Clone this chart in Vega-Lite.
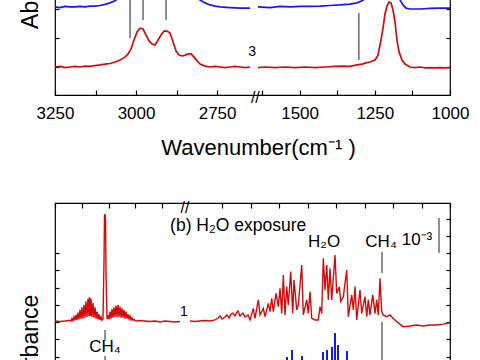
{
  "$schema": "https://vega.github.io/schema/vega-lite/v6.json",
  "autosize": {"type": "none"},
  "padding": {"left": 55, "top": -151, "right": 425, "bottom": 511},
  "config": {
    "font": "Liberation Sans",
    "view": {"stroke": "black", "strokeWidth": 1.2},
    "axis": {"grid": false, "domain": false, "tickColor": "black", "tickWidth": 1.2, "labelColor": "black", "titleColor": "black", "labelFont": "Liberation Sans", "titleFont": "Liberation Sans", "titleFontWeight": "normal", "labelFontSize": 17, "titleFontSize": 22},
    "text": {"font": "Liberation Sans", "color": "black"}
  },
  "datasets": {
    "top": [
      {"w":3250,"a":0,"s":"red","seg":"L"},{"w":3234.6,"a":0.02,"s":"red","seg":"L"},{"w":3219.1,"a":-0.02,"s":"red","seg":"L"},{"w":3203.7,"a":0,"s":"red","seg":"L"},{"w":3188.3,"a":0.02,"s":"red","seg":"L"},{"w":3172.8,"a":0,"s":"red","seg":"L"},{"w":3157.4,"a":0.03,"s":"red","seg":"L"},{"w":3142,"a":0.02,"s":"red","seg":"L"},{"w":3126.5,"a":0.05,"s":"red","seg":"L"},{"w":3111.1,"a":0.07,"s":"red","seg":"L"},{"w":3095.7,"a":0.1,"s":"red","seg":"L"},{"w":3080.2,"a":0.12,"s":"red","seg":"L"},{"w":3064.8,"a":0.17,"s":"red","seg":"L"},{"w":3049.4,"a":0.24,"s":"red","seg":"L"},{"w":3034,"a":0.34,"s":"red","seg":"L"},{"w":3024.7,"a":0.45,"s":"red","seg":"L"},{"w":3015.4,"a":0.62,"s":"red","seg":"L"},{"w":3006.2,"a":0.93,"s":"red","seg":"L"},{"w":2996.9,"a":1.21,"s":"red","seg":"L"},{"w":2987.7,"a":1.34,"s":"red","seg":"L"},{"w":2978.4,"a":1.31,"s":"red","seg":"L"},{"w":2969.1,"a":1.1,"s":"red","seg":"L"},{"w":2959.9,"a":0.9,"s":"red","seg":"L"},{"w":2950.6,"a":0.79,"s":"red","seg":"L"},{"w":2941.4,"a":0.76,"s":"red","seg":"L"},{"w":2932.1,"a":0.93,"s":"red","seg":"L"},{"w":2922.8,"a":1.1,"s":"red","seg":"L"},{"w":2913.6,"a":1.24,"s":"red","seg":"L"},{"w":2904.3,"a":1.24,"s":"red","seg":"L"},{"w":2895.1,"a":1.17,"s":"red","seg":"L"},{"w":2885.8,"a":0.86,"s":"red","seg":"L"},{"w":2876.5,"a":0.55,"s":"red","seg":"L"},{"w":2867.3,"a":0.41,"s":"red","seg":"L"},{"w":2858,"a":0.38,"s":"red","seg":"L"},{"w":2848.8,"a":0.41,"s":"red","seg":"L"},{"w":2839.5,"a":0.45,"s":"red","seg":"L"},{"w":2830.2,"a":0.45,"s":"red","seg":"L"},{"w":2821,"a":0.34,"s":"red","seg":"L"},{"w":2811.7,"a":0.21,"s":"red","seg":"L"},{"w":2802.5,"a":0.1,"s":"red","seg":"L"},{"w":2787,"a":0.03,"s":"red","seg":"L"},{"w":2771.6,"a":0,"s":"red","seg":"L"},{"w":2756.2,"a":0.02,"s":"red","seg":"L"},{"w":2740.7,"a":0,"s":"red","seg":"L"},{"w":2725.3,"a":-0.02,"s":"red","seg":"L"},{"w":2709.9,"a":0,"s":"red","seg":"L"},{"w":2694.4,"a":0.02,"s":"red","seg":"L"},{"w":2679,"a":0,"s":"red","seg":"L"},{"w":2663.6,"a":-0.02,"s":"red","seg":"L"},{"w":2648.1,"a":0,"s":"red","seg":"L"},
      {"w":3250,"a":2.07,"s":"blue","seg":"L"},{"w":3234.6,"a":2.05,"s":"blue","seg":"L"},{"w":3219.1,"a":2.09,"s":"blue","seg":"L"},{"w":3203.7,"a":2.07,"s":"blue","seg":"L"},{"w":3188.3,"a":2.07,"s":"blue","seg":"L"},{"w":3172.8,"a":2.09,"s":"blue","seg":"L"},{"w":3157.4,"a":2.07,"s":"blue","seg":"L"},{"w":3142,"a":2.1,"s":"blue","seg":"L"},{"w":3126.5,"a":2.1,"s":"blue","seg":"L"},{"w":3111.1,"a":2.12,"s":"blue","seg":"L"},{"w":3095.7,"a":2.16,"s":"blue","seg":"L"},{"w":3080.2,"a":2.21,"s":"blue","seg":"L"},{"w":3064.8,"a":2.28,"s":"blue","seg":"L"},{"w":3049.4,"a":2.41,"s":"blue","seg":"L"},{"w":3034,"a":2.66,"s":"blue","seg":"L"},{"w":3018.5,"a":3.17,"s":"blue","seg":"L"},{"w":2987.7,"a":4.38,"s":"blue","seg":"L"},{"w":2956.8,"a":4.72,"s":"blue","seg":"L"},{"w":2910.5,"a":4.55,"s":"blue","seg":"L"},{"w":2864.2,"a":3.69,"s":"blue","seg":"L"},{"w":2833.3,"a":2.83,"s":"blue","seg":"L"},{"w":2817.9,"a":2.48,"s":"blue","seg":"L"},{"w":2802.5,"a":2.31,"s":"blue","seg":"L"},{"w":2787,"a":2.21,"s":"blue","seg":"L"},{"w":2771.6,"a":2.14,"s":"blue","seg":"L"},{"w":2756.2,"a":2.1,"s":"blue","seg":"L"},{"w":2740.7,"a":2.07,"s":"blue","seg":"L"},{"w":2709.9,"a":2.05,"s":"blue","seg":"L"},{"w":2679,"a":2.03,"s":"blue","seg":"L"},{"w":2648.1,"a":2.03,"s":"blue","seg":"L"},
      {"w":1638.3,"a":-0.02,"s":"red","seg":"R"},{"w":1615,"a":0,"s":"red","seg":"R"},{"w":1581.8,"a":-0.02,"s":"red","seg":"R"},{"w":1548.5,"a":0,"s":"red","seg":"R"},{"w":1515.3,"a":-0.02,"s":"red","seg":"R"},{"w":1482,"a":0,"s":"red","seg":"R"},{"w":1448.8,"a":-0.02,"s":"red","seg":"R"},{"w":1415.6,"a":0,"s":"red","seg":"R"},{"w":1382.3,"a":0.02,"s":"red","seg":"R"},{"w":1355.7,"a":0.03,"s":"red","seg":"R"},{"w":1332.5,"a":0.02,"s":"red","seg":"R"},{"w":1309.2,"a":0.07,"s":"red","seg":"R"},{"w":1292.6,"a":0.1,"s":"red","seg":"R"},{"w":1279.3,"a":0.14,"s":"red","seg":"R"},{"w":1266,"a":0.17,"s":"red","seg":"R"},{"w":1249.3,"a":0.24,"s":"red","seg":"R"},{"w":1239.4,"a":0.41,"s":"red","seg":"R"},{"w":1229.4,"a":0.93,"s":"red","seg":"R"},{"w":1222.7,"a":1.34,"s":"red","seg":"R"},{"w":1216.1,"a":1.83,"s":"red","seg":"R"},{"w":1209.4,"a":2.1,"s":"red","seg":"R"},{"w":1202.8,"a":2.24,"s":"red","seg":"R"},{"w":1196.1,"a":2.21,"s":"red","seg":"R"},{"w":1189.5,"a":1.97,"s":"red","seg":"R"},{"w":1182.8,"a":1.55,"s":"red","seg":"R"},{"w":1176.2,"a":0.93,"s":"red","seg":"R"},{"w":1169.5,"a":0.52,"s":"red","seg":"R"},{"w":1159.6,"a":0.24,"s":"red","seg":"R"},{"w":1149.6,"a":0.1,"s":"red","seg":"R"},{"w":1133,"a":0,"s":"red","seg":"R"},{"w":1116.4,"a":-0.02,"s":"red","seg":"R"},{"w":1099.7,"a":0,"s":"red","seg":"R"},{"w":1083.1,"a":-0.03,"s":"red","seg":"R"},{"w":1066.5,"a":-0.02,"s":"red","seg":"R"},{"w":1049.9,"a":-0.03,"s":"red","seg":"R"},{"w":1033.2,"a":-0.02,"s":"red","seg":"R"},{"w":1016.6,"a":-0.03,"s":"red","seg":"R"},{"w":1000,"a":-0.02,"s":"red","seg":"R"},
      {"w":1638.3,"a":2.07,"s":"blue","seg":"R"},{"w":1598.4,"a":2.05,"s":"blue","seg":"R"},{"w":1565.2,"a":2.09,"s":"blue","seg":"R"},{"w":1531.9,"a":2.07,"s":"blue","seg":"R"},{"w":1498.7,"a":2.09,"s":"blue","seg":"R"},{"w":1465.4,"a":2.09,"s":"blue","seg":"R"},{"w":1432.2,"a":2.1,"s":"blue","seg":"R"},{"w":1398.9,"a":2.12,"s":"blue","seg":"R"},{"w":1365.7,"a":2.14,"s":"blue","seg":"R"},{"w":1332.5,"a":2.17,"s":"blue","seg":"R"},{"w":1309.2,"a":2.21,"s":"blue","seg":"R"},{"w":1292.6,"a":2.28,"s":"blue","seg":"R"},{"w":1279.3,"a":2.38,"s":"blue","seg":"R"},{"w":1266,"a":2.59,"s":"blue","seg":"R"},{"w":1249.3,"a":3.34,"s":"blue","seg":"R"},{"w":1216.1,"a":4.38,"s":"blue","seg":"R"},{"w":1192.8,"a":3.69,"s":"blue","seg":"R"},{"w":1176.2,"a":2.66,"s":"blue","seg":"R"},{"w":1166.2,"a":2.31,"s":"blue","seg":"R"},{"w":1156.3,"a":2.14,"s":"blue","seg":"R"},{"w":1146.3,"a":2.03,"s":"blue","seg":"R"},{"w":1133,"a":2.0,"s":"blue","seg":"R"},{"w":1099.7,"a":2.0,"s":"blue","seg":"R"},{"w":1066.5,"a":2.02,"s":"blue","seg":"R"},{"w":1033.2,"a":2.03,"s":"blue","seg":"R"},{"w":1000,"a":2.03,"s":"blue","seg":"R"}
    ],
    "topRules": [
      {"w":3018.5,"a1":1.0,"a2":3.2},{"w":2978.4,"a1":1.62,"a2":3.2},{"w":2907.4,"a1":1.62,"a2":3.2},{"w":1303,"a1":0.24,"a2":1.86}
    ],
    "topSmall": [{"w":2642,"a":0.52,"t":"3"}],
    "topBreak": [{"w":2632,"a":-1.08,"t":"//"}],
    "bot": [
      {"w":3200,"b":0.06,"seg":"L"},{"w":3181.3,"b":0.03,"seg":"L"},{"w":3162.6,"b":0.06,"seg":"L"},
      {"w":3143.9,"b":0.1,"seg":"L"},{"w":3140.2,"b":0.05,"seg":"L"},{"w":3136.5,"b":0.2,"seg":"L"},{"w":3132.7,"b":0.08,"seg":"L"},{"w":3129,"b":0.3,"seg":"L"},{"w":3125.2,"b":0.1,"seg":"L"},{"w":3121.5,"b":0.42,"seg":"L"},{"w":3117.8,"b":0.12,"seg":"L"},{"w":3114,"b":0.55,"seg":"L"},{"w":3110.3,"b":0.15,"seg":"L"},{"w":3106.6,"b":0.7,"seg":"L"},{"w":3102.8,"b":0.18,"seg":"L"},{"w":3099.1,"b":0.85,"seg":"L"},{"w":3095.3,"b":0.2,"seg":"L"},{"w":3091.6,"b":1.0,"seg":"L"},{"w":3087.9,"b":0.25,"seg":"L"},{"w":3084.1,"b":1.2,"seg":"L"},{"w":3080.4,"b":0.3,"seg":"L"},{"w":3076.6,"b":1.35,"seg":"L"},{"w":3072.9,"b":0.35,"seg":"L"},{"w":3071,"b":1.45,"seg":"L"},{"w":3067.3,"b":0.35,"seg":"L"},{"w":3065.4,"b":1.35,"seg":"L"},{"w":3061.7,"b":0.3,"seg":"L"},{"w":3057.9,"b":1.1,"seg":"L"},{"w":3054.2,"b":0.25,"seg":"L"},{"w":3050.5,"b":0.85,"seg":"L"},{"w":3046.7,"b":0.2,"seg":"L"},{"w":3043,"b":0.6,"seg":"L"},{"w":3039.3,"b":0.15,"seg":"L"},{"w":3035.5,"b":0.45,"seg":"L"},{"w":3031.8,"b":0.12,"seg":"L"},{"w":3028,"b":0.3,"seg":"L"},{"w":3024.3,"b":0.1,"seg":"L"},{"w":3020.6,"b":0.17,"seg":"L"},
      {"w":3016.8,"b":3.59,"seg":"L"},{"w":3015,"b":6.15,"seg":"L"},{"w":3013.1,"b":6.26,"seg":"L"},{"w":3011.2,"b":6.03,"seg":"L"},{"w":3009.4,"b":3.01,"seg":"L"},
      {"w":3005.6,"b":0.17,"seg":"L"},{"w":3001.9,"b":0.4,"seg":"L"},{"w":2998.1,"b":0.15,"seg":"L"},{"w":2994.4,"b":0.6,"seg":"L"},{"w":2990.7,"b":0.2,"seg":"L"},{"w":2986.9,"b":0.75,"seg":"L"},{"w":2983.2,"b":0.25,"seg":"L"},{"w":2979.5,"b":0.85,"seg":"L"},{"w":2975.7,"b":0.3,"seg":"L"},{"w":2972,"b":0.95,"seg":"L"},{"w":2968.2,"b":0.3,"seg":"L"},{"w":2964.5,"b":1.0,"seg":"L"},{"w":2960.8,"b":0.3,"seg":"L"},{"w":2957,"b":0.9,"seg":"L"},{"w":2953.3,"b":0.25,"seg":"L"},{"w":2949.6,"b":0.8,"seg":"L"},{"w":2945.8,"b":0.25,"seg":"L"},{"w":2942.1,"b":0.7,"seg":"L"},{"w":2938.3,"b":0.2,"seg":"L"},{"w":2934.6,"b":0.6,"seg":"L"},{"w":2930.9,"b":0.2,"seg":"L"},{"w":2927.1,"b":0.45,"seg":"L"},{"w":2923.4,"b":0.15,"seg":"L"},{"w":2919.7,"b":0.35,"seg":"L"},{"w":2915.9,"b":0.12,"seg":"L"},{"w":2912.2,"b":0.25,"seg":"L"},{"w":2908.4,"b":0.1,"seg":"L"},{"w":2904.7,"b":0.15,"seg":"L"},{"w":2897.2,"b":0.06,"seg":"L"},
      {"w":2882.3,"b":0.09,"seg":"L"},{"w":2863.6,"b":0.06,"seg":"L"},{"w":2844.9,"b":0.03,"seg":"L"},{"w":2826.2,"b":0.06,"seg":"L"},{"w":2807.5,"b":0,"seg":"L"},{"w":2788.8,"b":0.06,"seg":"L"},{"w":2770.1,"b":0.03,"seg":"L"},{"w":2751.4,"b":0,"seg":"L"},{"w":2732.7,"b":0.03,"seg":"L"},
      {"w":2012.9,"b":0.06,"seg":"R"},{"w":1995.3,"b":0.03,"seg":"R"},{"w":1977.8,"b":0.06,"seg":"R"},{"w":1960.2,"b":0.09,"seg":"R"},{"w":1942.6,"b":0.06,"seg":"R"},{"w":1925.1,"b":0.12,"seg":"R"},{"w":1914.6,"b":0.23,"seg":"R"},{"w":1907.5,"b":0.35,"seg":"R"},{"w":1900.5,"b":0.17,"seg":"R"},{"w":1890,"b":0.29,"seg":"R"},{"w":1883,"b":0.41,"seg":"R"},{"w":1875.9,"b":0.23,"seg":"R"},{"w":1868.9,"b":0.46,"seg":"R"},{"w":1861.9,"b":0.52,"seg":"R"},{"w":1854.9,"b":0.35,"seg":"R"},{"w":1847.8,"b":0.58,"seg":"R"},{"w":1844.3,"b":0.64,"seg":"R"},{"w":1837.3,"b":0.35,"seg":"R"},{"w":1826.8,"b":0.52,"seg":"R"},{"w":1819.8,"b":0.29,"seg":"R"},{"w":1809.2,"b":0.41,"seg":"R"},{"w":1802.2,"b":0.12,"seg":"R"},{"w":1790.6,"b":0.79,"seg":"R"},{"w":1784.6,"b":0.21,"seg":"R"},{"w":1773.1,"b":1.28,"seg":"R"},{"w":1767.1,"b":0.41,"seg":"R"},{"w":1755.5,"b":0.79,"seg":"R"},{"w":1749.6,"b":0.31,"seg":"R"},{"w":1738,"b":1.08,"seg":"R"},{"w":1732,"b":0.6,"seg":"R"},{"w":1726,"b":1.37,"seg":"R"},{"w":1720.4,"b":0.6,"seg":"R"},{"w":1710.9,"b":1.66,"seg":"R"},{"w":1702.8,"b":0.89,"seg":"R"},{"w":1696.9,"b":1.95,"seg":"R"},{"w":1690.9,"b":0.5,"seg":"R"},{"w":1685.3,"b":2.72,"seg":"R"},{"w":1679.3,"b":0.41,"seg":"R"},{"w":1673.4,"b":2.05,"seg":"R"},{"w":1667.7,"b":0.99,"seg":"R"},{"w":1659.3,"b":2.92,"seg":"R"},{"w":1652.3,"b":0.5,"seg":"R"},{"w":1647.7,"b":2.43,"seg":"R"},{"w":1638.2,"b":0.7,"seg":"R"},{"w":1632.6,"b":0.99,"seg":"R"},{"w":1620.7,"b":3.3,"seg":"R"},{"w":1615.1,"b":0.41,"seg":"R"},{"w":1603.1,"b":1.28,"seg":"R"},{"w":1597.5,"b":0.5,"seg":"R"},{"w":1591.5,"b":1.76,"seg":"R"},{"w":1585.6,"b":0.21,"seg":"R"},{"w":1574,"b":0.12,"seg":"R"},{"w":1562.4,"b":0.12,"seg":"R"},{"w":1556.4,"b":0.89,"seg":"R"},{"w":1550.5,"b":0.5,"seg":"R"},{"w":1544.8,"b":3.69,"seg":"R"},{"w":1538.9,"b":1.86,"seg":"R"},{"w":1532.9,"b":3.3,"seg":"R"},{"w":1527.3,"b":1.28,"seg":"R"},{"w":1521.3,"b":3.11,"seg":"R"},{"w":1515.4,"b":1.28,"seg":"R"},{"w":1503.8,"b":3.88,"seg":"R"},{"w":1497.8,"b":1.66,"seg":"R"},{"w":1488.7,"b":2.05,"seg":"R"},{"w":1483.8,"b":1.18,"seg":"R"},{"w":1474.6,"b":1.47,"seg":"R"},{"w":1462.7,"b":3.01,"seg":"R"},{"w":1457.1,"b":0.31,"seg":"R"},{"w":1445.1,"b":1.57,"seg":"R"},{"w":1439.5,"b":0.7,"seg":"R"},{"w":1433.5,"b":2.05,"seg":"R"},{"w":1427.6,"b":0.12,"seg":"R"},{"w":1416,"b":1.86,"seg":"R"},{"w":1410,"b":0.5,"seg":"R"},{"w":1398.4,"b":1.47,"seg":"R"},{"w":1392.5,"b":0.31,"seg":"R"},{"w":1386.8,"b":1.28,"seg":"R"},{"w":1380.9,"b":0.41,"seg":"R"},{"w":1371.4,"b":1.57,"seg":"R"},{"w":1363.3,"b":0.5,"seg":"R"},{"w":1357.4,"b":1.28,"seg":"R"},{"w":1351.7,"b":0.41,"seg":"R"},{"w":1345.8,"b":2.53,"seg":"R"},{"w":1339.8,"b":0.6,"seg":"R"},{"w":1334.2,"b":0.41,"seg":"R"},{"w":1322.2,"b":0.31,"seg":"R"},{"w":1310.7,"b":0.41,"seg":"R"},{"w":1299.1,"b":0.21,"seg":"R"},{"w":1287.1,"b":0.02,"seg":"R"},{"w":1264,"b":-0.27,"seg":"R"},{"w":1240.4,"b":-0.23,"seg":"R"},{"w":1216.9,"b":-0.17,"seg":"R"},{"w":1193.7,"b":-0.23,"seg":"R"},{"w":1170.2,"b":-0.17,"seg":"R"},{"w":1146.7,"b":-0.17,"seg":"R"},{"w":1123.5,"b":-0.12,"seg":"R"},{"w":1100,"b":-0.04,"seg":"R"}
    ],
    "botBlue": [
      {"w":1686.3,"b":-2.2},{"w":1672.3,"b":-2.03},{"w":1654.7,"b":-1.62},{"w":1619.6,"b":-1.97},{"w":1545.9,"b":-1.74},{"w":1531.9,"b":-1.62},{"w":1514.3,"b":-1.45},{"w":1503.8,"b":-0.64},{"w":1493.2,"b":-1.33},{"w":1461.6,"b":-1.68}
    ],
    "botRules": [
      {"w":3013,"b1":-0.46,"b2":-1.1},{"w":3013,"b1":-1.97,"b2":-5.7},{"w":1338.7,"b1":2.84,"b2":4.06},{"w":1338.7,"b1":0,"b2":-5.7},{"w":1138.6,"b1":4.0,"b2":6.03}
    ],
    "botLabels": [
      {"w":1542,"b":4.64,"t":"H₂O"},{"w":1342,"b":4.64,"t":"CH₄"},{"w":1216,"b":4.75,"t":"10⁻³"},{"w":3013,"b":-1.45,"t":"CH₄"}
    ],
    "botTitle": [{"w":2770,"b":5.55,"t":"(b) H₂O exposure"}],
    "botSmall": [{"w":2718,"b":0.58,"t":"1"}],
    "botBreak": [{"w":2714,"b":6.62,"t":"//"}]
  },
  "vconcat": [
    {
      "width": 395, "height": 246,
      "resolve": {"axis": {"x": "independent", "y": "independent"}},
      "layer": [
        {
          "data": {"name": "top"},
          "mark": {"type": "line", "strokeWidth": 1.7, "clip": true},
          "encoding": {
            "x": {"field": "w", "type": "quantitative",
                  "scale": {"domain": [3250, 2630, 1645, 1000], "range": [0, 201, 201, 395], "zero": false, "nice": false},
                  "axis": {"orient": "bottom", "values": [3250, 3125, 3000, 2875, 2750, 1625, 1500, 1375, 1250, 1125, 1000], "tickSize": -5, "labelExpr": "datum.value % 250 == 0 ? format(datum.value, 'd') : ''", "labelFlush": false, "labelOverlap": false, "labelPadding": 15, "title": "Wavenumber(cm⁻¹ )", "titleX": 203, "titleY": 59, "titleBaseline": "alphabetic"}},
            "y": {"field": "a", "type": "quantitative",
                  "scale": {"domain": [-0.966, 7.517], "zero": false, "nice": false},
                  "axis": {"orient": "left", "values": [0, 1, 2, 3, 4, 5, 6, 7], "tickSize": -4, "labels": false, "title": "Absorbance", "titleFontSize": 23, "titleX": -18, "titleY": 118, "titleBaseline": "alphabetic"}},
            "color": {"field": "s", "type": "nominal", "scale": {"domain": ["red", "blue"], "range": ["#d60a0a", "#1717f0"]}, "legend": null},
            "detail": {"field": "seg"}
          }
        },
        {
          "data": {"name": "topRules"},
          "mark": {"type": "rule", "color": "#555555", "strokeWidth": 1.3, "clip": true},
          "encoding": {
            "x": {"field": "w", "type": "quantitative", "scale": {"domain": [3250, 2630, 1645, 1000], "range": [0, 201, 201, 395], "zero": false, "nice": false}, "axis": null},
            "y": {"field": "a1", "type": "quantitative", "scale": {"domain": [-0.966, 7.517], "zero": false, "nice": false},
                  "axis": {"orient": "right", "values": [0, 1, 2, 3, 4, 5, 6, 7], "tickSize": -4, "labels": false, "title": null}},
            "y2": {"field": "a2"}
          }
        },
        {
          "data": {"name": "topSmall"},
          "mark": {"type": "text", "fontSize": 14, "align": "center", "baseline": "middle", "color": "black"},
          "encoding": {
            "x": {"field": "w", "type": "quantitative", "scale": {"domain": [3250, 2630, 1645, 1000], "range": [0, 201, 201, 395], "zero": false, "nice": false}, "axis": null},
            "y": {"field": "a", "type": "quantitative", "scale": {"domain": [-0.966, 7.517], "zero": false, "nice": false}, "axis": null},
            "text": {"field": "t"}
          }
        },
        {
          "data": {"name": "topBreak"},
          "mark": {"type": "text", "fontSize": 16, "align": "center", "baseline": "middle", "color": "black"},
          "encoding": {
            "x": {"field": "w", "type": "quantitative", "scale": {"domain": [3250, 2630, 1645, 1000], "range": [0, 201, 201, 395], "zero": false, "nice": false}, "axis": null},
            "y": {"field": "a", "type": "quantitative", "scale": {"domain": [-0.966, 7.517], "zero": false, "nice": false}, "axis": null},
            "text": {"field": "t"}
          }
        }
      ]
    },
    {
      "width": 395, "height": 296,
      "resolve": {"axis": {"x": "independent", "y": "independent"}},
      "layer": [
        {
          "data": {"name": "bot"},
          "mark": {"type": "line", "strokeWidth": 1.4, "color": "#d60a0a", "clip": true},
          "encoding": {
            "x": {"field": "w", "type": "quantitative",
                  "scale": {"domain": [3200, 2703, 2020, 1100], "range": [0, 133, 133, 395], "zero": false, "nice": false},
                  "axis": {"orient": "top", "values": [3200, 3100, 3000, 2900, 2800, 1900, 1800, 1700, 1600, 1500, 1400, 1300, 1200, 1100], "tickSize": -5, "labels": false, "title": null}},
            "y": {"field": "b", "type": "quantitative",
                  "scale": {"domain": [-10.26, 6.9], "zero": false, "nice": false},
                  "axis": {"orient": "left", "values": [-10, -9, -8, -7, -6, -5, -4, -3, -2, -1, 0, 1, 2, 3, 4], "tickSize": -4, "labels": false, "title": "Absorbance", "titleFontSize": 23, "titleX": -18, "titleY": 152.6, "titleBaseline": "alphabetic"}},
            "detail": {"field": "seg"}
          }
        },
        {
          "data": {"name": "botBlue"},
          "mark": {"type": "rule", "color": "#1717f0", "strokeWidth": 2, "clip": true},
          "encoding": {
            "x": {"field": "w", "type": "quantitative", "scale": {"domain": [3200, 2703, 2020, 1100], "range": [0, 133, 133, 395], "zero": false, "nice": false}, "axis": null},
            "y": {"field": "b", "type": "quantitative", "scale": {"domain": [-10.26, 6.9], "zero": false, "nice": false},
                  "axis": {"orient": "right", "values": [-10, -9, -8, -7, -6, -5, -4, -3, -2, -1, 0, 1, 2, 3, 4, 5, 6], "tickSize": -4, "labels": false, "title": null}},
            "y2": {"datum": -6}
          }
        },
        {
          "data": {"name": "botRules"},
          "mark": {"type": "rule", "color": "#555555", "strokeWidth": 1.3, "clip": true},
          "encoding": {
            "x": {"field": "w", "type": "quantitative", "scale": {"domain": [3200, 2703, 2020, 1100], "range": [0, 133, 133, 395], "zero": false, "nice": false}, "axis": null},
            "y": {"field": "b1", "type": "quantitative", "scale": {"domain": [-10.26, 6.9], "zero": false, "nice": false}, "axis": null},
            "y2": {"field": "b2"}
          }
        },
        {
          "data": {"name": "botLabels"},
          "mark": {"type": "text", "fontSize": 17, "align": "center", "baseline": "middle", "color": "black"},
          "encoding": {
            "x": {"field": "w", "type": "quantitative", "scale": {"domain": [3200, 2703, 2020, 1100], "range": [0, 133, 133, 395], "zero": false, "nice": false}, "axis": null},
            "y": {"field": "b", "type": "quantitative", "scale": {"domain": [-10.26, 6.9], "zero": false, "nice": false}, "axis": null},
            "text": {"field": "t"}
          }
        },
        {
          "data": {"name": "botTitle"},
          "mark": {"type": "text", "fontSize": 17.5, "align": "left", "baseline": "middle", "color": "black"},
          "encoding": {
            "x": {"field": "w", "type": "quantitative", "scale": {"domain": [3200, 2703, 2020, 1100], "range": [0, 133, 133, 395], "zero": false, "nice": false}, "axis": null},
            "y": {"field": "b", "type": "quantitative", "scale": {"domain": [-10.26, 6.9], "zero": false, "nice": false}, "axis": null},
            "text": {"field": "t"}
          }
        },
        {
          "data": {"name": "botSmall"},
          "mark": {"type": "text", "fontSize": 14, "align": "center", "baseline": "middle", "color": "black"},
          "encoding": {
            "x": {"field": "w", "type": "quantitative", "scale": {"domain": [3200, 2703, 2020, 1100], "range": [0, 133, 133, 395], "zero": false, "nice": false}, "axis": null},
            "y": {"field": "b", "type": "quantitative", "scale": {"domain": [-10.26, 6.9], "zero": false, "nice": false}, "axis": null},
            "text": {"field": "t"}
          }
        },
        {
          "data": {"name": "botBreak"},
          "mark": {"type": "text", "fontSize": 16, "align": "center", "baseline": "middle", "color": "black"},
          "encoding": {
            "x": {"field": "w", "type": "quantitative", "scale": {"domain": [3200, 2703, 2020, 1100], "range": [0, 133, 133, 395], "zero": false, "nice": false}, "axis": null},
            "y": {"field": "b", "type": "quantitative", "scale": {"domain": [-10.26, 6.9], "zero": false, "nice": false}, "axis": null},
            "text": {"field": "t"}
          }
        }
      ]
    }
  ],
  "spacing": 108,
  "bounds": "flush"
}
